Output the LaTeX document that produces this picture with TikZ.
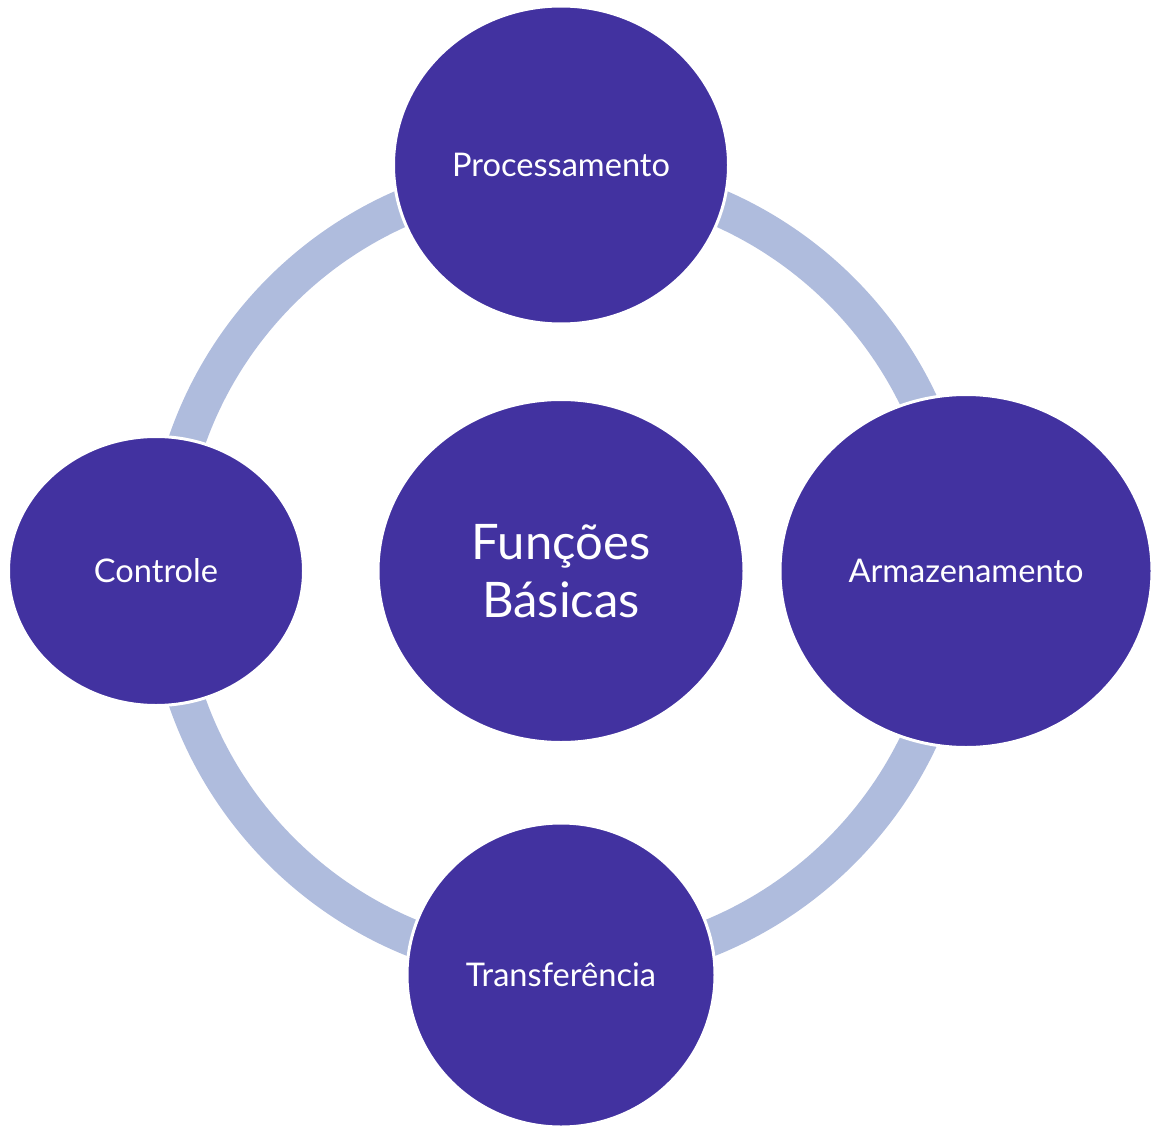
\documentclass[tikz,border=0pt]{standalone}
\usepackage{fontspec}
\setmainfont{Lato}
\usepackage{tikz}
\usetikzlibrary{positioning,shapes.geometric}
\definecolor{cdark}{HTML}{4232A0}
\definecolor{cring}{HTML}{AFBCDD}
\tikzset{
  funcnode/.style={ellipse, draw=white, line width=3pt, fill=cdark,
    text=white, inner sep=0pt, align=center, font=\fontsize{32.6}{38}\selectfont},
  ringline/.style={draw=cring, line width=37pt}
}

\begin{document}
\begin{tikzpicture}[x=1pt, y=-1pt]
  \useasboundingbox (0,0) rectangle (1151,1129);
  \coordinate (mid) at (561,571);

  % ring behind the nodes
  \draw[ringline] (mid) circle[radius=396pt];

  \node[funcnode, minimum width=366pt, minimum height=343pt,
    font=\fontsize{49}{58}\selectfont] (centre) at (mid) {Funções\\Básicas};
  \node[funcnode, minimum width=335pt, minimum height=318pt] (proc) at (561,165) {Processamento};
  \node[funcnode, minimum width=372pt, minimum height=353pt] (arm) at (966,571) {Armazenamento};
  \node[funcnode, minimum width=295pt, minimum height=269pt] (ctrl) at (156,571) {Controle};
  \node[funcnode, minimum width=308pt, minimum height=304pt] (trans) at (561,975) {Transferência};
\end{tikzpicture}
\end{document}
